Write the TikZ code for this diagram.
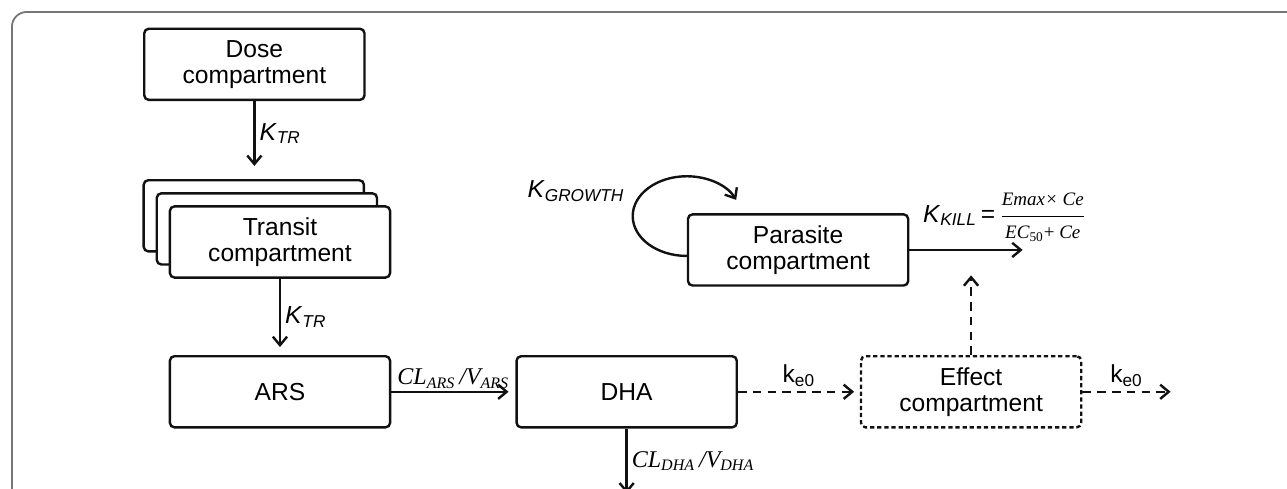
\documentclass[tikz,border=0pt]{standalone}
\usepackage{amsmath}
\usepackage{fontspec}
\setmainfont{Liberation Sans}
\newfontfamily\clfont{Liberation Serif}
\usepackage{tikz}
\usetikzlibrary{arrows.meta,positioning,shadows}
\definecolor{PkFrame}{HTML}{767676}
\definecolor{PkDark}{HTML}{111111}
\newcommand{\krate}[1]{\textit{K}\textsubscript{\textit{#1}}}
\newcommand{\keo}{k\textsubscript{e0}}
\newcommand{\clrate}[1]{{\clfont\itshape CL\textsubscript{#1}\,/V\textsubscript{#1}}}
\tikzset{
  compbox/.style={draw=PkDark,line width=1.2pt,rounded corners=0.8mm,align=center,minimum width=38.7mm,minimum height=12.5mm,inner sep=3pt,font=\fontsize{12.3}{13}\selectfont,fill=white},
  transitbox/.style={compbox,copy shadow={shadow xshift=-4.6mm,shadow yshift=4.6mm,draw=PkDark,line width=1.2pt},copy shadow={shadow xshift=-2.3mm,shadow yshift=2.3mm,draw=PkDark,line width=1.2pt}},
  effectbox/.style={compbox,dash pattern=on 0.75mm off 0.5mm},
  flowarrow/.style={-{Straight Barb[length=1.5mm,width=2.5mm]},line width=1.2pt,draw=PkDark},
  linkarrow/.style={flowarrow,dash pattern=on 1.5mm off 1.1mm},
  ratelabel/.style={font=\fontsize{12.3}{13}\selectfont,inner sep=2pt},
  mathlabel/.style={font=\fontsize{12}{13}\selectfont,inner sep=2pt},
  framestroke/.style={draw=PkFrame,line width=0.9pt,rounded corners=2.6mm}
}

\begin{document}
\begin{tikzpicture}[node distance=12mm and 20mm]
\useasboundingbox (0,0) rectangle (226.16mm,-85.76mm);
\draw[framestroke] (2.1mm,-87mm) -- (2.1mm,-2.1mm) -- (228mm,-2.1mm);

\node[compbox] (dose) at (44.7mm,-11.3mm) {Dose\\compartment};
\node[transitbox,below=18.3mm of dose,xshift=4.5mm] (transit) {Transit\\compartment};
\node[compbox,below=13.4mm of transit] (ars) {ARS};
\node[compbox,right=21.8mm of ars] (dha) {DHA};
\node[effectbox,right=21.4mm of dha] (effect) {Effect\\compartment};
\node[compbox,above=12mm of effect,xshift=-30.4mm] (parasite) {Parasite\\compartment};

\coordinate[below=11.4mm of dose] (dosetip);
\coordinate[below=11.4mm of dha] (dhaout);
\coordinate[right=15.5mm of effect] (effout);
\coordinate[above=14mm of effect] (efftip);
\coordinate[right=19.9mm of parasite] (killout);

\draw[flowarrow] (dose.south)--(dosetip) node[ratelabel,midway,right] {\krate{TR}};
\draw[flowarrow,shorten >=1.4mm] (transit.south)--(ars.north) node[ratelabel,midway,right] {\krate{TR}};
\draw[flowarrow,shorten >=1.2mm] (ars.east)--(dha.west) node[mathlabel,midway,above,yshift=-1pt] {\clrate{ARS}};
\draw[flowarrow] (dha.south)--(dhaout) node[mathlabel,midway,right] {\clrate{DHA}};
\draw[linkarrow,shorten >=1mm] (dha.east)--(effect.west) node[ratelabel,midway,above] {\keo};
\draw[linkarrow] (effect.east)--(effout) node[ratelabel,midway,above] {\keo};
\draw[linkarrow] (effect.north)--(efftip);
\draw[flowarrow] (parasite.east)--(killout) node[ratelabel,pos=0,anchor=south west,xshift=1.5mm,yshift=0.6mm] {\krate{KILL}\,=\,$\dfrac{\text{\clfont\itshape\fontsize{9.5}{10}\selectfont Emax\texttimes\ Ce}}{\text{\clfont\itshape\fontsize{9.5}{10}\selectfont EC\textsubscript{\upshape 50}\upshape+ \itshape Ce}}$};
\draw[flowarrow] ([yshift=-1.05mm]parasite.west) arc[start angle=270,end angle=24,x radius=9.5mm,y radius=7mm];
\node[ratelabel,anchor=east] (growth) at ([xshift=-10.2mm,yshift=10.4mm]parasite.west) {\krate{GROWTH}};
\end{tikzpicture}
\end{document}
